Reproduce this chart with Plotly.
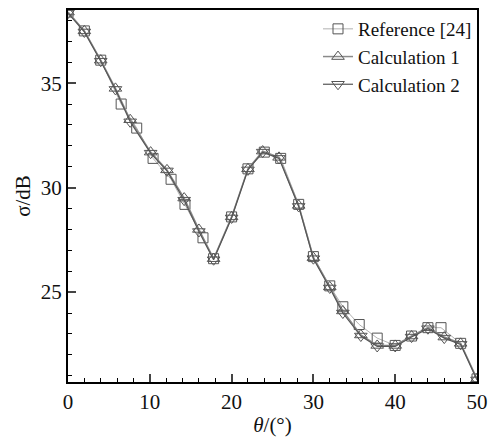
import plotly.graph_objects as go

ref_x = [0, 2, 4, 6.5, 8.4, 10.4, 12.6, 14.3, 16.5, 17.8, 20, 22, 24, 26, 28.2, 30, 32, 33.6, 35.6, 37.8, 40, 42, 44, 45.6, 48, 50]
ref_y = [38.4, 37.5, 36.1, 34.0, 32.85, 31.4, 30.4, 29.2, 27.6, 26.6, 28.6, 30.9, 31.7, 31.4, 29.2, 26.7, 25.3, 24.3, 23.45, 22.8, 22.45, 22.9, 23.3, 23.3, 22.55, 20.85]

calc1_x = [0, 2, 4, 5.8, 7.6, 10.1, 12.1, 14.2, 16, 17.8, 20, 22, 23.8, 25.8, 28.2, 30, 32, 33.6, 35.8, 37.8, 40, 42, 44, 46, 48, 50]
calc1_y = [38.4, 37.5, 36.1, 34.75, 33.25, 31.7, 30.85, 29.5, 28.0, 26.6, 28.6, 30.9, 31.75, 31.45, 29.15, 26.65, 25.25, 24.1, 22.95, 22.45, 22.45, 22.9, 23.3, 22.85, 22.55, 20.85]

calc2_x = [0, 2, 4, 5.8, 7.6, 10.1, 12.1, 14.2, 16, 17.8, 20, 22, 23.8, 25.8, 28.2, 30, 32, 33.6, 35.8, 37.8, 40, 42, 44, 46, 48, 50]
calc2_y = [38.35, 37.45, 36.05, 34.7, 33.15, 31.65, 30.8, 29.4, 27.9, 26.55, 28.55, 30.85, 31.7, 31.4, 29.1, 26.6, 25.2, 24.0, 22.9, 22.4, 22.4, 22.85, 23.25, 22.8, 22.5, 20.8]

x_ticks = [0, 10, 20, 30, 40, 50]
y_ticks = [25, 30, 35]

fig = go.Figure()
fig.add_trace(go.Scatter(
    x=ref_x, y=ref_y, name="Reference [24]", mode="lines+markers",
    line=dict(color="#b0b0b0", width=1),
    marker=dict(symbol="square-open", size=10, color="#555555", line=dict(width=1))))
fig.add_trace(go.Scatter(
    x=calc1_x, y=calc1_y, name="Calculation 1", mode="lines+markers",
    line=dict(color="#8a8a8a", width=1.5),
    marker=dict(symbol="triangle-up-open", size=11, color="#555555", line=dict(width=1))))
fig.add_trace(go.Scatter(
    x=calc2_x, y=calc2_y, name="Calculation 2", mode="lines+markers",
    line=dict(color="#555555", width=1.2),
    marker=dict(symbol="triangle-down-open", size=11, color="#555555", line=dict(width=1))))

fam = "Liberation Serif, Times New Roman, serif"
font = dict(family=fam, size=21, color="#111111")

fig.update_layout(
    width=496, height=441,
    margin=dict(l=68, r=18, t=8, b=57),
    paper_bgcolor="white", plot_bgcolor="white",
    font=font,
    showlegend=True,
    legend=dict(x=1.0, y=1.0, xanchor="right", yanchor="top",
                bgcolor="rgba(0,0,0,0)", font=dict(size=19, family=fam),
                tracegroupgap=0, itemwidth=30),
)
fig.update_xaxes(
    range=[0, 50], tickvals=x_ticks, ticks="inside", ticklen=8, tickwidth=2,
    showline=True, linewidth=2, linecolor="black", mirror=True, showgrid=False, zeroline=False,
    minor=dict(dtick=2, ticks="inside", ticklen=4, tickwidth=1, tickcolor="black"),
    title=dict(text="<i>θ</i>/(°)", font=dict(size=21), standoff=4),
    tickfont=dict(size=21),
)
fig.update_yaxes(
    range=[20.7, 38.5], tickvals=y_ticks, ticks="inside", ticklen=8, tickwidth=2,
    showline=True, linewidth=2, linecolor="black", mirror=True, showgrid=False, zeroline=False,
    minor=dict(dtick=1, ticks="inside", ticklen=4, tickwidth=1, tickcolor="black"),
    title=dict(text="σ/dB", font=dict(size=21), standoff=4),
    tickfont=dict(size=21),
)

fig.write_html("out.html", config={"displayModeBar": False},
               post_script="document.body.style.margin='0';document.body.style.overflow='hidden';")
